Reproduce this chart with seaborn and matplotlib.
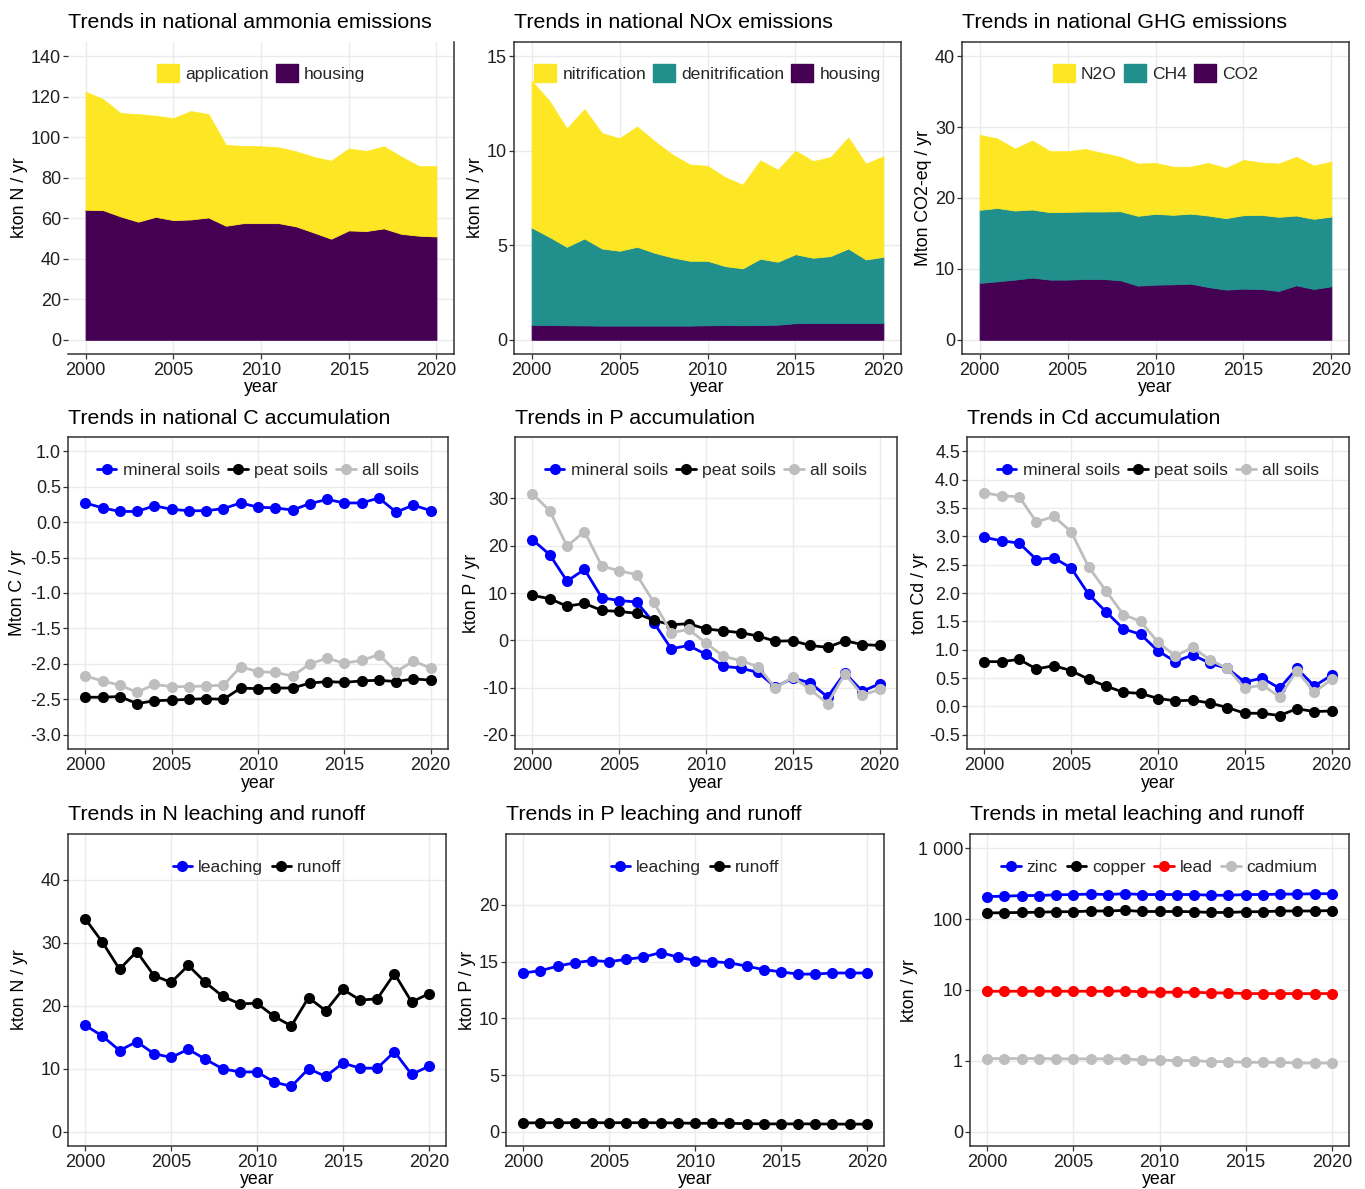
import numpy as np
import pandas as pd
import matplotlib
matplotlib.use("Agg")
import matplotlib.pyplot as plt
from matplotlib.lines import Line2D
from matplotlib.patches import Patch
from matplotlib.ticker import FixedLocator, NullLocator
import seaborn as sns

years = list(range(2000, 2021))

# --- national ammonia emissions (kton N / yr), stacked
nh3_housing = [64.2, 64.0, 60.9, 58.3, 60.7, 59.1, 59.4, 60.4, 56.3, 57.6, 57.6,
               57.6, 56.0, 53.0, 49.9, 54.0, 53.7, 55.0, 52.3, 51.4, 51.0]
nh3_application = [58.2, 54.8, 51.0, 53.1, 49.9, 50.3, 53.5, 51.0, 39.9, 38.1, 37.9,
                   37.4, 37.0, 37.3, 38.5, 40.4, 39.5, 40.5, 38.1, 34.3, 34.7]

# --- national NOx emissions (kton N / yr), stacked
nox_housing = [0.79, 0.78, 0.77, 0.76, 0.75, 0.75, 0.75, 0.75, 0.75, 0.75, 0.77,
               0.78, 0.77, 0.78, 0.80, 0.88, 0.89, 0.89, 0.89, 0.89, 0.89]
nox_denitrification = [5.15, 4.67, 4.15, 4.60, 4.08, 3.96, 4.17, 3.85, 3.61, 3.43, 3.41,
                       3.12, 3.01, 3.51, 3.33, 3.65, 3.45, 3.54, 3.94, 3.36, 3.50]
nox_nitrification = [7.76, 7.20, 6.25, 6.84, 6.10, 5.95, 6.36, 5.90, 5.44, 5.09, 5.02,
                     4.70, 4.42, 5.20, 4.86, 5.47, 5.11, 5.23, 5.87, 5.06, 5.31]

# --- national GHG emissions (Mton CO2-eq / yr), stacked
ghg_co2 = [8.02, 8.25, 8.49, 8.77, 8.49, 8.49, 8.58, 8.58, 8.40, 7.64, 7.78,
           7.83, 7.92, 7.45, 7.08, 7.22, 7.17, 6.89, 7.69, 7.17, 7.55]
ghg_ch4 = [10.31, 10.35, 9.75, 9.61, 9.51, 9.56, 9.52, 9.52, 9.74, 9.85, 9.99,
           9.80, 9.88, 10.08, 10.08, 10.36, 10.46, 10.46, 9.84, 9.89, 9.84]
ghg_n2o = [10.57, 9.80, 8.72, 9.72, 8.60, 8.55, 8.80, 8.25, 7.66, 7.36, 7.17,
           6.77, 6.60, 7.41, 7.08, 7.78, 7.37, 7.50, 8.27, 7.51, 7.74]

# --- C accumulation (Mton C / yr)
c_mineral = [0.27, 0.20, 0.15, 0.15, 0.23, 0.18, 0.16, 0.16, 0.19, 0.27, 0.21,
             0.20, 0.17, 0.26, 0.32, 0.27, 0.27, 0.34, 0.14, 0.24, 0.16]
c_peat = [-2.47, -2.47, -2.46, -2.56, -2.52, -2.51, -2.50, -2.49, -2.50, -2.34, -2.35,
          -2.34, -2.34, -2.27, -2.25, -2.26, -2.24, -2.23, -2.25, -2.21, -2.23]
c_all = [-2.17, -2.24, -2.30, -2.40, -2.29, -2.32, -2.32, -2.31, -2.30, -2.04, -2.11,
         -2.12, -2.17, -2.00, -1.92, -1.99, -1.95, -1.87, -2.11, -1.96, -2.06]

# --- P accumulation (kton P / yr)
p_mineral = [21.3, 18.1, 12.5, 15.0, 9.0, 8.4, 8.1, 3.7, -1.8, -1.1, -3.0,
             -5.5, -5.9, -6.8, -9.9, -8.0, -9.0, -12.0, -6.9, -10.8, -9.2]
p_peat = [9.5, 8.8, 7.2, 7.8, 6.3, 6.1, 5.7, 4.2, 3.3, 3.5, 2.4,
          2.0, 1.6, 0.9, -0.2, -0.1, -1.1, -1.5, -0.1, -0.9, -1.1]
p_all = [31.0, 27.4, 19.9, 23.0, 15.7, 14.7, 13.9, 8.0, 1.6, 2.3, -0.6,
         -3.4, -4.3, -5.6, -10.1, -7.8, -10.4, -13.4, -7.1, -11.6, -10.4]

# --- Cd accumulation (ton Cd / yr)
cd_mineral = [2.98, 2.92, 2.88, 2.59, 2.62, 2.44, 1.98, 1.67, 1.37, 1.27, 0.98,
              0.79, 0.91, 0.76, 0.67, 0.43, 0.50, 0.32, 0.67, 0.36, 0.55]
cd_peat = [0.79, 0.79, 0.83, 0.66, 0.72, 0.63, 0.48, 0.36, 0.25, 0.23, 0.14,
           0.10, 0.11, 0.06, -0.02, -0.12, -0.12, -0.16, -0.04, -0.09, -0.08]
cd_all = [3.77, 3.71, 3.70, 3.25, 3.35, 3.08, 2.46, 2.04, 1.62, 1.50, 1.13,
          0.89, 1.04, 0.82, 0.67, 0.32, 0.38, 0.17, 0.63, 0.25, 0.48]

# --- N leaching and runoff (kton N / yr)
n_leaching = [16.9, 15.2, 12.9, 14.3, 12.4, 11.8, 13.1, 11.5, 10.0, 9.5, 9.5,
              7.9, 7.2, 10.0, 8.8, 10.9, 10.1, 10.1, 12.7, 9.1, 10.4]
n_runoff = [33.8, 30.1, 25.8, 28.6, 24.8, 23.7, 26.4, 23.7, 21.5, 20.3, 20.4,
            18.3, 16.8, 21.3, 19.2, 22.6, 20.9, 21.1, 25.1, 20.6, 21.9]

# --- P leaching and runoff (kton P / yr)
pl_leaching = [14.0, 14.2, 14.6, 14.9, 15.1, 15.0, 15.2, 15.4, 15.8, 15.4, 15.1,
               15.0, 14.9, 14.6, 14.3, 14.1, 13.9, 13.9, 14.0, 14.0, 14.0]
pl_runoff = [0.78, 0.80, 0.80, 0.80, 0.80, 0.80, 0.80, 0.80, 0.80, 0.78, 0.75,
             0.75, 0.75, 0.72, 0.70, 0.70, 0.70, 0.70, 0.68, 0.68, 0.68]

# --- metal leaching and runoff (kton / yr)
m_zinc = [208, 210, 215, 215, 220, 222, 225, 222, 228, 222, 222,
          222, 222, 217, 217, 222, 222, 225, 225, 228, 228]
m_copper = [122, 123, 124, 125, 127, 127, 130, 130, 133, 128, 128,
            128, 127, 124, 124, 127, 127, 130, 130, 130, 132]
m_lead = [9.6, 9.6, 9.6, 9.6, 9.6, 9.6, 9.6, 9.6, 9.7, 9.4, 9.3,
          9.3, 9.3, 9.1, 9.1, 8.9, 8.9, 8.9, 8.9, 8.9, 8.9]
m_cadmium = [1.08, 1.08, 1.08, 1.08, 1.07, 1.07, 1.07, 1.07, 1.07, 1.03, 1.03,
             1.01, 1.01, 0.99, 0.99, 0.98, 0.98, 0.98, 0.97, 0.97, 0.97]

VIR_YELLOW, VIR_TEAL, VIR_PURPLE = "#FDE725", "#21908C", "#440154"
GRID = "#EBEBEB"
BORDER = "#333333"
TICKTXT = "#1F1F1F"
FS_TICK = 13
FS_LAB = 12.8
FS_LEG = 12.6
FS_TITLE = 15.4
MS = 8
LW = 2.0

sns.set_theme(style="whitegrid")
plt.rcParams["font.family"] = ["Liberation Sans", "DejaVu Sans"]
plt.rcParams["axes.unicode_minus"] = False

W, H = 1365, 1189
fig = plt.figure(figsize=(W / 100, H / 100), dpi=100)
fig.patch.set_facecolor("white")


def make_axes(left, right, top, bottom):
    return fig.add_axes([left / W, 1 - bottom / H, (right - left) / W, (bottom - top) / H])


def style(ax, title, ylabel, yticks, ylim, ylab_px, yfmt=None, ytlabels=None):
    w_px = ax.get_position().width * W
    h_px = ax.get_position().height * H
    ax.set_facecolor("white")
    ax.set_xlim(1999, 2021)
    ax.set_xticks([2000, 2005, 2010, 2015, 2020])
    ax.set_ylim(*ylim)
    ax.yaxis.set_major_locator(FixedLocator(yticks))
    ax.yaxis.set_minor_locator(NullLocator())
    if ytlabels is not None:
        ax.set_yticklabels(ytlabels)
    elif yfmt is not None:
        ax.set_yticklabels([yfmt % v for v in yticks])
    else:
        ax.set_yticklabels([f"{v:g}" for v in yticks])
    ax.grid(True, which="major", color=GRID, linewidth=1.0)
    ax.set_axisbelow(True)
    for s in ax.spines.values():
        s.set_visible(True)
        s.set_color(BORDER)
        s.set_linewidth(1.1)
    ax.tick_params(axis="both", which="major", length=3.5, width=0.9, color=BORDER,
                   labelsize=FS_TICK, labelcolor=TICKTXT, bottom=True, left=True)
    ax.tick_params(axis="x", pad=2.0)
    ax.tick_params(axis="y", pad=1.5)
    ax.set_xlabel("year", fontsize=FS_LAB, color="black", va="center")
    ax.xaxis.set_label_coords(0.5, -34 / h_px)
    ax.set_ylabel(ylabel, fontsize=FS_LAB, color="black", va="center")
    ax.yaxis.set_label_coords(-ylab_px / w_px, 0.5)
    ax.text(0, 1 + 19 / h_px, title, transform=ax.transAxes, fontsize=FS_TITLE,
            ha="left", va="center", color="black")


def stacked(ax, layers, names, colors):
    polys = ax.stackplot(years, *layers, colors=colors, linewidth=0.6, zorder=2)
    for p, c in zip(polys, colors):
        p.set_edgecolor(c)
    handles = [Patch(facecolor=c, edgecolor=c) for c in colors[::-1]]
    ax.legend(handles, names[::-1], loc="center", bbox_to_anchor=(0.5, 0.9),
              ncol=len(names), frameon=False, fontsize=FS_LEG, handlelength=1.25,
              handleheight=1.25, handletextpad=0.35, columnspacing=0.4)


def lines(ax, series, names, colors, legend_y=0.894):
    df = pd.DataFrame({
        "year": np.tile(years, len(series)),
        "value": np.concatenate([np.asarray(s, dtype=float) for s in series]),
        "series": np.repeat(names, len(years)),
    })
    sns.lineplot(data=df, x="year", y="value", hue="series", hue_order=names,
                 palette=dict(zip(names, colors)), marker="o", markersize=MS,
                 markeredgewidth=0, linewidth=LW, legend=False, ax=ax, zorder=3)
    handles = [Line2D([0], [0], color=c, marker="o", markersize=MS, lw=LW,
                      markeredgewidth=0) for c in colors]
    ax.legend(handles, names, loc="center", bbox_to_anchor=(0.5, legend_y),
              ncol=len(names), frameon=False, fontsize=FS_LEG, handlelength=1.1,
              handletextpad=0.35, columnspacing=0.5)


# Row 1 — stacked emissions
ax1 = make_axes(68, 454, 42, 354)
stacked(ax1, [nh3_housing, nh3_application], ["housing", "application"],
        [VIR_PURPLE, VIR_YELLOW])
style(ax1, "Trends in national ammonia emissions", "kton N / yr",
      list(range(0, 141, 20)), (-7, 147), 49)
ax1.spines["left"].set_visible(False)
ax1.spines["top"].set_visible(False)

ax2 = make_axes(514, 901, 42, 354)
stacked(ax2, [nox_housing, nox_denitrification, nox_nitrification],
        ["housing", "denitrification", "nitrification"],
        [VIR_PURPLE, VIR_TEAL, VIR_YELLOW])
style(ax2, "Trends in national NOx emissions", "kton N / yr",
      [0, 5, 10, 15], (-0.75, 15.75), 39)

ax3 = make_axes(962, 1349, 42, 354)
stacked(ax3, [ghg_co2, ghg_ch4, ghg_n2o], ["CO2", "CH4", "N2O"],
        [VIR_PURPLE, VIR_TEAL, VIR_YELLOW])
style(ax3, "Trends in national GHG emissions", "Mton CO2-eq / yr",
      [0, 10, 20, 30, 40], (-2, 42), 39)

# Row 2 — soil accumulation
soil_names = ["mineral soils", "peat soils", "all soils"]
soil_cols = ["#0000FF", "#000000", "#BEBEBE"]

ax4 = make_axes(68, 448, 437, 749)
lines(ax4, [c_mineral, c_peat, c_all], soil_names, soil_cols)
style(ax4, "Trends in national C accumulation", "Mton C / yr",
      list(np.arange(-3.0, 1.01, 0.5)), (-3.2, 1.2), 50, yfmt="%.1f")

ax5 = make_axes(515, 897, 437, 749)
lines(ax5, [p_mineral, p_peat, p_all], soil_names, soil_cols)
style(ax5, "Trends in P accumulation", "kton P / yr",
      [-20, -10, 0, 10, 20, 30], (-23, 43), 43)

ax6 = make_axes(967, 1349, 437, 749)
lines(ax6, [cd_mineral, cd_peat, cd_all], soil_names, soil_cols)
style(ax6, "Trends in Cd accumulation", "ton Cd / yr",
      list(np.arange(-0.5, 4.51, 0.5)), (-0.75, 4.75), 47, yfmt="%.1f")

# Row 3 — leaching and runoff
ax7 = make_axes(68, 446, 834, 1146)
lines(ax7, [n_leaching, n_runoff], ["leaching", "runoff"], ["#0000FF", "#000000"])
style(ax7, "Trends in N leaching and runoff", "kton N / yr",
      [0, 10, 20, 30, 40], (-2.25, 47.25), 49)

ax8 = make_axes(506, 884, 834, 1146)
lines(ax8, [pl_leaching, pl_runoff], ["leaching", "runoff"], ["#0000FF", "#000000"])
style(ax8, "Trends in P leaching and runoff", "kton P / yr",
      [0, 5, 10, 15, 20], (-1.25, 26.25), 38)

ax9 = make_axes(970, 1349, 834, 1146)
ax9.set_yscale("symlog", linthresh=1, linscale=0.9)
lines(ax9, [m_zinc, m_copper, m_lead, m_cadmium], ["zinc", "copper", "lead", "cadmium"],
      ["#0000FF", "#000000", "#FF0000", "#BEBEBE"])
style(ax9, "Trends in metal leaching and runoff", "kton / yr",
      [0, 1, 10, 100, 1000], (-0.2, 10 ** 3.2), 60,
      ytlabels=["0", "1", "10", "100", "1 000"])

fig.savefig("out.png", dpi=100, facecolor="white")
